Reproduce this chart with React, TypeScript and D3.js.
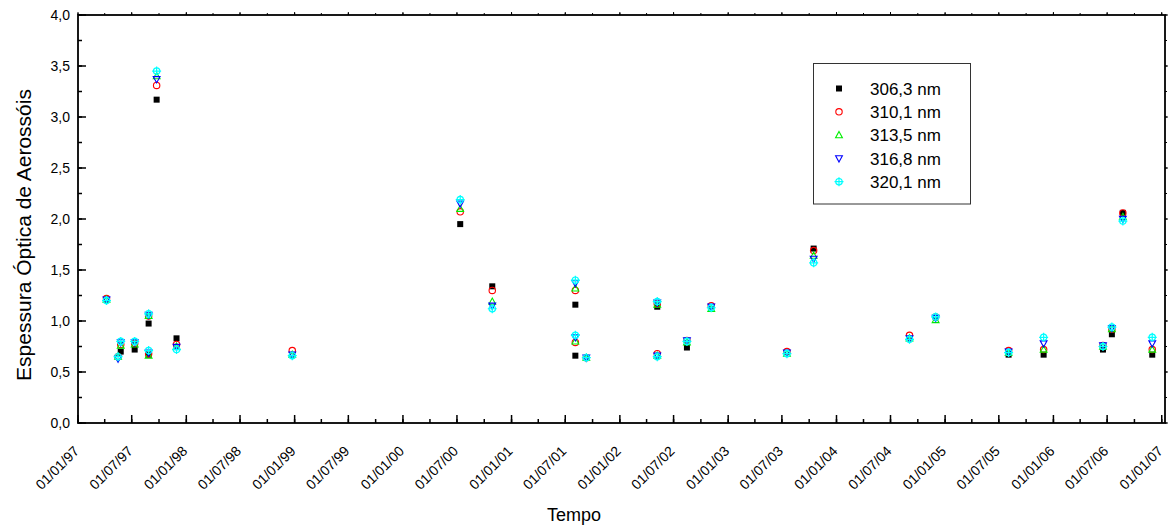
import React from "react";
import * as d3 from "d3";

// ---- data ----
const dates: string[] = [
  "1997-04-07", "1997-05-16", "1997-05-25", "1997-07-11", "1997-08-27", "1997-08-27",
  "1997-09-23", "1997-11-29", "1998-12-24", "2000-07-12", "2000-10-28", "2001-08-04",
  "2001-08-04", "2001-09-10", "2002-05-07", "2002-05-07", "2002-08-15", "2002-11-05",
  "2003-07-18", "2003-10-16", "2004-09-03", "2004-11-30", "2005-08-03", "2005-11-29",
  "2006-06-17", "2006-07-17", "2006-08-23", "2006-11-30",
];
const s3063: (number | null)[] = [
  null, null, 0.70, 0.72, 0.975, 0.67, 3.17, 0.83, null, 1.95, 1.34, 1.16,
  0.66, null, 1.14, null, 0.74, null, null, 1.71, null, null, 0.67, 0.67,
  0.72, 0.87, 2.06, 0.67,
];
const s3101: (number | null)[] = [
  1.22, 0.65, 0.77, 0.78, 1.05, 0.68, 3.31, 0.77, 0.71, 2.07, 1.30, 1.30,
  0.79, 0.64, 1.17, 0.68, 0.81, 1.15, 0.70, 1.69, 0.86, 1.04, 0.71, 0.72,
  0.76, 0.92, 2.06, 0.72,
];
const s3135: (number | null)[] = [
  1.21, 0.65, 0.76, 0.77, 1.05, 0.66, 3.40, 0.75, 0.67, 2.10, 1.19, 1.32,
  0.80, 0.64, 1.16, 0.66, 0.79, 1.12, 0.68, 1.64, 0.83, 1.01, 0.69, 0.72,
  0.75, 0.92, 2.02, 0.72,
];
const s3168: (number | null)[] = [
  1.21, 0.63, 0.79, 0.79, 1.06, 0.69, 3.37, 0.745, 0.67, 2.15, 1.15, 1.37,
  0.84, 0.64, 1.18, 0.66, 0.81, 1.14, 0.69, 1.61, 0.83, 1.03, 0.70, 0.78,
  0.76, 0.93, 2.00, 0.78,
];
const s3201: (number | null)[] = [
  1.20, 0.65, 0.80, 0.80, 1.07, 0.71, 3.45, 0.72, 0.66, 2.19, 1.12, 1.40,
  0.86, 0.64, 1.19, 0.65, 0.80, 1.13, 0.68, 1.57, 0.82, 1.04, 0.69, 0.84,
  0.75, 0.94, 1.98, 0.84,
];
const seriesNames: string[] = ["306,3 nm", "310,1 nm", "313,5 nm", "316,8 nm", "320,1 nm"];
const seriesValues = [s3063, s3101, s3135, s3168, s3201];
const seriesColors: string[] = ["#000000", "#ff0000", "#00ee00", "#0000ff", "#00ffff"];
const seriesSymbols: string[] = ["square", "circle", "triUp", "triDown", "crossCircle"];
const yTickValues: number[] = [0, 0.5, 1, 1.5, 2, 2.5, 3, 3.5, 4];

const W = 1174;
const H = 530;
const left = 78;
const right = 1165;
const top = 15;
const bottom = 423;
const FONT = "'Liberation Sans', Arial, Helvetica, sans-serif";

const parse = d3.timeParse("%Y-%m-%d");
const x = d3
  .scaleTime()
  .domain([new Date(1997, 0, 1), new Date(2007, 0, 12)])
  .range([left, right]);
const y = d3.scaleLinear().domain([0, 4]).range([bottom, top]);
const fmtDate = d3.timeFormat("%d/%m/%y");
const fmtY = (v: number) => v.toFixed(1).replace(".", ",");

function Symbol({ kind, color, cx, cy }: { kind: string; color: string; cx: number; cy: number }) {
  const t = `translate(${cx},${cy})`;
  if (kind === "square")
    return <rect x={cx - 3} y={cy - 3} width={6} height={6} fill={color} />;
  if (kind === "circle")
    return <circle cx={cx} cy={cy} r={3.2} fill="none" stroke={color} strokeWidth={1.1} />;
  if (kind === "triUp")
    return <path transform={t} d="M0,-3.6L3.4,2.6L-3.4,2.6Z" fill="none" stroke={color} strokeWidth={1.1} />;
  if (kind === "triDown")
    return <path transform={t} d="M0,3.6L3.4,-2.6L-3.4,-2.6Z" fill="none" stroke={color} strokeWidth={1.1} />;
  return (
    <g transform={t} stroke={color} strokeWidth={1.2} fill="none">
      <circle r={3.2} />
      <path d="M-4.5,0H4.5M0,-4.5V4.5" />
    </g>
  );
}

export default function App() {
  const majorX = d3.timeMonth.every(6)!.range(new Date(1997, 0, 1), new Date(2007, 0, 2));
  const minorX = d3.timeMonth.every(3)!.range(new Date(1997, 0, 1), new Date(2007, 0, 2));
  const minorY = d3.range(0, 4.01, 0.25);
  const dateObjs = dates.map((d) => parse(d)!);

  return (
    <svg width={W} height={H} style={{ position: "absolute", left: 0, top: 0, background: "#fff" }} fontFamily={FONT}>
      <rect width={W} height={H} fill="#fff" />
      {minorX.map((d, i) => (
        <g key={"mx" + i}>
          <line x1={x(d)} x2={x(d)} y1={bottom} y2={bottom - 4} stroke="#000" strokeWidth={1.5} />
          <line x1={x(d)} x2={x(d)} y1={top} y2={top - 2} stroke="#000" strokeWidth={1} />
        </g>
      ))}
      {majorX.map((d, i) => (
        <g key={"Mx" + i}>
          <line x1={x(d)} x2={x(d)} y1={bottom} y2={bottom - 8} stroke="#000" strokeWidth={1.5} />
          <line x1={x(d)} x2={x(d)} y1={top} y2={top - 3} stroke="#000" strokeWidth={1} />
          <text
            transform={`translate(${x(d) + 2},${bottom + 29}) rotate(-45)`}
            textAnchor="end"
            fontSize={14}
            fill="#000"
          >
            {fmtDate(d)}
          </text>
        </g>
      ))}
      {minorY.map((v, i) => (
        <g key={"my" + i}>
          <line x1={left} x2={left + 4} y1={y(v)} y2={y(v)} stroke="#000" strokeWidth={1.5} />
          <line x1={right} x2={right + 2} y1={y(v)} y2={y(v)} stroke="#000" strokeWidth={1} />
        </g>
      ))}
      {yTickValues.map((v, i) => (
        <g key={"My" + i}>
          <line x1={left} x2={left + 8} y1={y(v)} y2={y(v)} stroke="#000" strokeWidth={1.5} />
          <line x1={right} x2={right + 3} y1={y(v)} y2={y(v)} stroke="#000" strokeWidth={1} />
          <text x={left - 8} y={y(v)} dy="0.35em" textAnchor="end" fontSize={14} fill="#000">
            {fmtY(v)}
          </text>
        </g>
      ))}
      <rect x={left} y={top} width={right - left} height={bottom - top} fill="none" stroke="#000" strokeWidth={1.8} />

      {seriesValues.map((vals, si) => (
        <g key={"s" + si}>
          {vals.map((v, i) =>
            v == null ? null : (
              <Symbol key={i} kind={seriesSymbols[si]} color={seriesColors[si]} cx={x(dateObjs[i])} cy={y(v)} />
            )
          )}
        </g>
      ))}

      <rect x={813.5} y={63.5} width={157} height={140.5} fill="#fff" stroke="#333" strokeWidth={1} />
      {seriesNames.map((n, i) => (
        <g key={"l" + i}>
          <Symbol kind={seriesSymbols[i]} color={seriesColors[i]} cx={839} cy={88.5 + i * 23.3} />
          <text x={870} y={88.5 + i * 23.3} dy="0.36em" fontSize={17} fill="#000">
            {n}
          </text>
        </g>
      ))}

      <text x={574} y={521} textAnchor="middle" fontSize={18} fill="#000">
        Tempo
      </text>
      <text transform={`translate(31,235) rotate(-90)`} textAnchor="middle" fontSize={21} fill="#000">
        Espessura Óptica de Aerossóis
      </text>
    </svg>
  );
}
